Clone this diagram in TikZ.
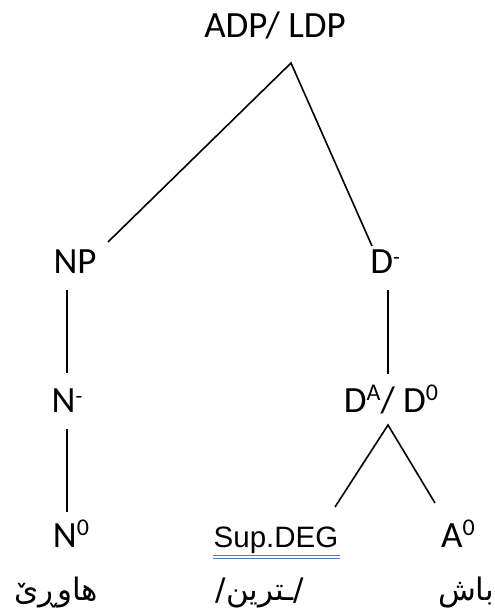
\documentclass[tikz,border=0pt]{standalone}
\usepackage{fontspec}
\setmainfont{Carlito}
\newfontfamily\arialf{Liberation Sans}
\newfontfamily\arabicfont[Script=Arabic]{DejaVu Sans}
\TeXXeTstate=1
\newcommand\supx[1]{\raisebox{12pt}{\fontsize{24}{24}\selectfont #1}}
\newcommand\supm{\raisebox{9pt}{\fontsize{22}{22}\selectfont -}}
\definecolor{ulblue}{RGB}{84,120,190}
\begin{document}
\begin{tikzpicture}[x=1pt,y=-1pt,
  lbl/.style={anchor=base, inner sep=0pt, font=\fontsize{37}{40}\selectfont},
  arial/.style={anchor=base, inner sep=0pt, font=\arialf\fontsize{29.5}{32}\selectfont},
  arab/.style={anchor=base, inner sep=0pt, font=\arabicfont\fontsize{31}{34}\selectfont},
  edge/.style={line width=1.6pt, black},
  dbl/.style={line width=1pt, ulblue}]
\useasboundingbox (0,0) rectangle (495,616);
% labels
\node[lbl] (adp) at (275,37) {ADP/ LDP};
\node[lbl] (np) at (75,273) {NP};
\node[lbl] (dbar) at (385,273) {D\supm};
\node[lbl] (nbar) at (67,412) {N\supm};
\node[lbl] (da) at (391,412) {D\supx{A}/ D\supx{0}};
\node[lbl] (n0) at (71,547) {N\supx{0}};
\node[arial] (sup) at (276,547) {Sup.DEG};
\node[lbl] (a0) at (458,547) {A\supx{0}};
% Arabic words
\node[arab] (w1) at (56,600) {\beginR هاوڕێ\endR};
\node[arab] (w2) at (260,600) {\beginR /ـترین/\endR};
\node[arab] (w3) at (466,600) {\beginR باش\endR};
% edge end points
\coordinate (apex) at (291,63);
\coordinate (npT) at (108,242);
\coordinate (dT) at (372,246);
\coordinate (npB) at (67,290);
\coordinate (nbT) at (67,373);
\coordinate (nbB) at (67,429);
\coordinate (n0T) at (67,512);
\coordinate (dbB) at (388,290);
\coordinate (daT) at (388,374);
\coordinate (daApex) at (388,425);
\coordinate (supT) at (335,507);
\coordinate (a0T) at (435,503);
\draw[edge] (npT) -- (apex) -- (dT);
\draw[edge] (npB) -- (nbT);
\draw[edge] (nbB) -- (n0T);
\draw[edge] (dbB) -- (daT);
\draw[edge] (supT) -- (daApex) -- (a0T);
% double underline
\coordinate (ulA) at (213,555);
\coordinate (ulB) at (340,555);
\coordinate (ulC) at (213,558.5);
\coordinate (ulD) at (340,558.5);
\draw[dbl] (ulA) -- (ulB);
\draw[dbl] (ulC) -- (ulD);
\end{tikzpicture}
\end{document}
